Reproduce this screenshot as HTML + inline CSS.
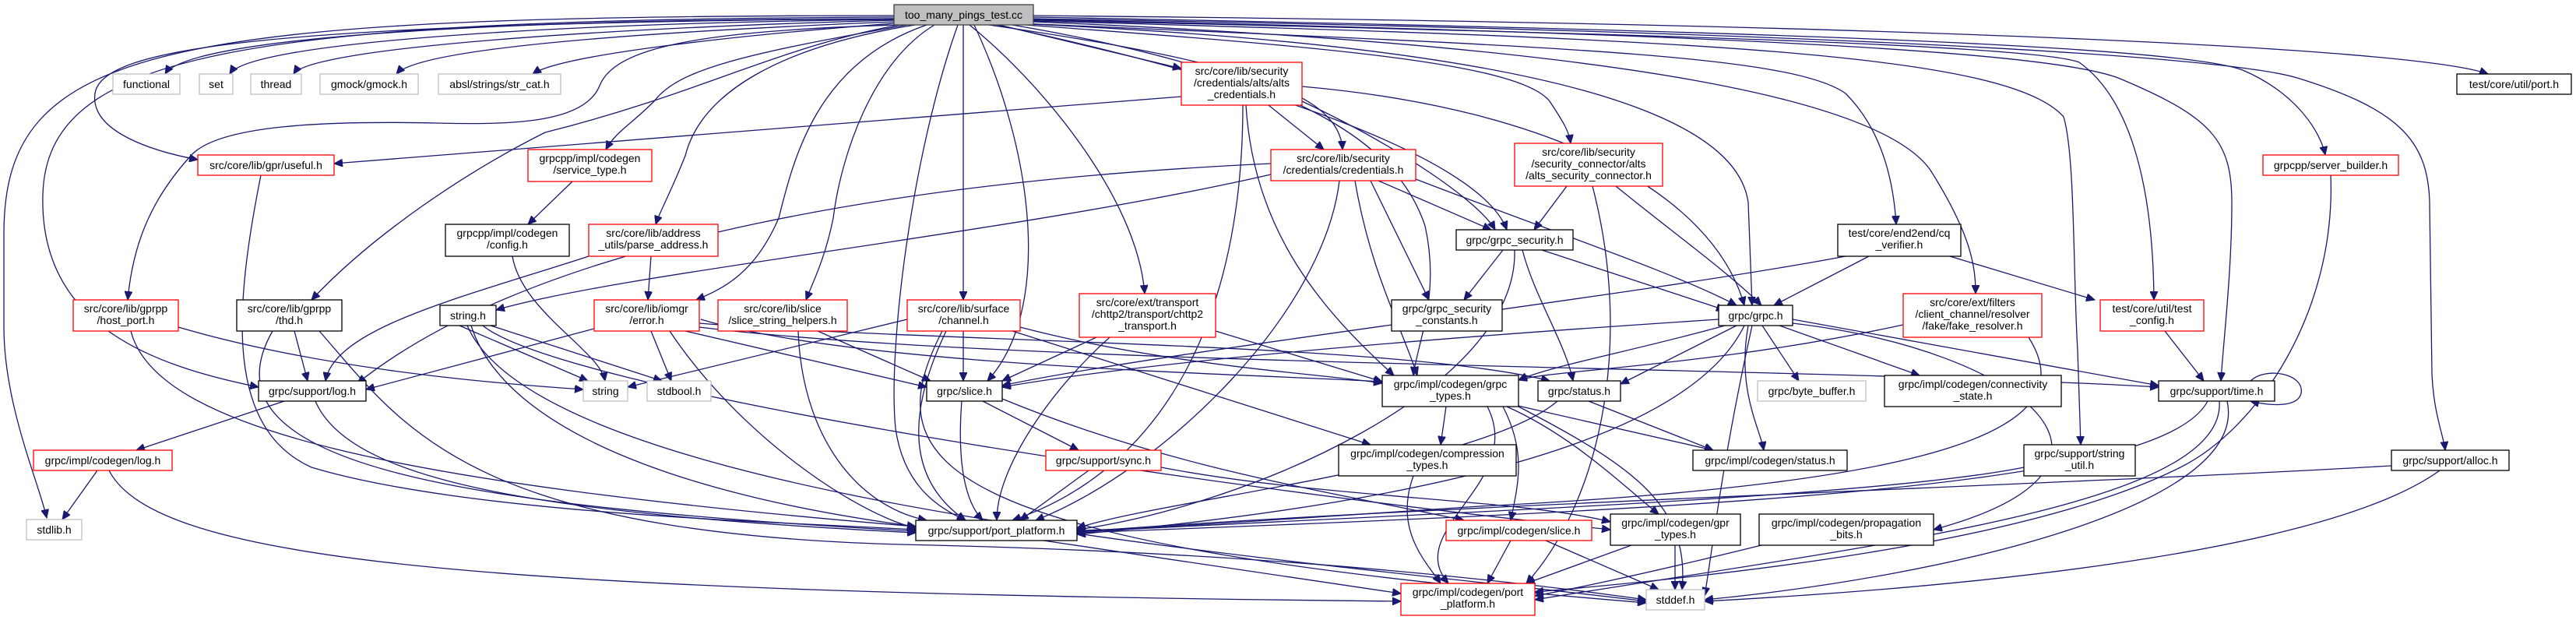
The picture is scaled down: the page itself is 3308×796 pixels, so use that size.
<!DOCTYPE html>
<html><head><meta charset="utf-8"><style>
html,body{margin:0;padding:0;background:#fff;}
svg{display:block;}
text{font-family:"Liberation Sans",Arial,sans-serif;font-size:14px;fill:#000;}
.e{fill:none;stroke:#191970;stroke-width:1.3;marker-end:url(#a);}
.b{fill:#fff;stroke:#000;stroke-width:1.3;}
.r{fill:#fff;stroke:#ff0000;stroke-width:1.3;}
.g{fill:#fff;stroke:#bfbfbf;stroke-width:1.3;}
</style></head><body>
<svg width="3308" height="796" viewBox="0 0 3308 796" xmlns="http://www.w3.org/2000/svg">
<defs><marker id="a" markerWidth="12" markerHeight="10" refX="11" refY="5" orient="auto" markerUnits="userSpaceOnUse"><path d="M0,0 L11,5 L0,10 z" fill="#191970" stroke="#191970"/></marker></defs>
<g>
<!-- root edges left -->
<path class="e" d="M1148,20 C200,20 5,60 5,300 L5,420 C5,520 50,620 60,665"/>
<path class="e" d="M1148,22 C300,25 60,70 55,250 C50,420 200,470 332,497"/>
<path class="e" d="M1148,24 C350,30 130,60 122,120 C115,170 200,195 254,205"/>
<path class="e" d="M1148,24 C600,25 240,50 212,95"/>
<path class="e" d="M1148,25 C700,30 320,55 295,95"/>
<path class="e" d="M1148,26 C800,35 400,60 377,95"/>
<path class="e" d="M1148,28 C850,40 540,60 509,95"/>
<path class="e" d="M1148,30 C950,45 720,70 684,95"/>
<path class="e" d="M1150,32 C900,40 790,60 770,110 C750,160 650,160 560,158 C420,155 280,160 245,200 C190,260 170,320 164,385"/>
<path class="e" d="M1155,32 C1000,60 900,120 700,170 C600,220 480,300 400,385"/>
<path class="e" d="M1165,32 C950,70 870,90 840,130 C810,160 790,170 778,192"/>
<path class="e" d="M1175,32 C1000,60 900,120 880,200 C860,250 848,270 842,288"/>
<path class="e" d="M1190,32 C1050,80 1020,200 1000,280 C970,350 930,370 894,385"/>
<path class="e" d="M1200,32 C1120,80 1080,200 1070,280 C1060,330 1045,360 1035,385"/>
<path class="e" d="M1230,32 C1170,200 1140,450 1150,550 C1160,620 1200,650 1240,668"/>
<path class="e" d="M1237,32 L1237,385"/>
<path class="e" d="M1251,32 C1330,200 1350,400 1268,489"/>
<path class="e" d="M1245,32 C1330,100 1460,250 1470,377"/>
<path class="e" d="M1283,32 L1517,88"/>
<path class="e" d="M1270,32 C1600,80 1720,120 1724,192"/>
<path class="e" d="M1280,32 C1600,100 1900,200 1935,295"/>
<path class="e" d="M1300,32 C1700,100 1800,200 1830,290 C1850,380 1820,440 1815,482"/>
<!-- root edges right -->
<path class="e" d="M1290,30 C1700,60 1950,80 1990,130 C2010,160 2015,170 2017,184"/>
<path class="e" d="M1300,30 C2000,60 2230,150 2245,260 L2250,392"/>
<path class="e" d="M1310,30 C2000,60 2300,70 2370,120 C2420,170 2432,240 2435,288"/>
<path class="e" d="M1327,28 C2100,60 2420,130 2480,220 C2530,300 2537,340 2537,377"/>
<path class="e" d="M1327,27 C2200,50 2580,70 2650,150 C2665,200 2662,350 2668,450 L2672,571"/>
<path class="e" d="M1327,26 C2200,45 2620,60 2670,80 C2740,130 2765,250 2766,385"/>
<path class="e" d="M1327,25 C2300,45 2640,70 2720,100 C2840,150 2866,180 2866,260 C2866,350 2855,440 2852,489"/>
<path class="e" d="M1327,24 C2300,40 2850,70 2950,100 C3080,140 3118,180 3120,260 L3123,480 C3125,530 3138,560 3140,578"/>
<path class="e" d="M1327,22 C2300,40 2800,60 2880,90 C2950,120 2980,170 2986,199"/>
<path class="e" d="M1327,20 C2400,30 3100,60 3195,95"/>
<!-- alts_credentials -->
<path class="e" d="M1517,124 L429,210"/>
<path class="e" d="M1629,135 L1700,192"/>
<path class="e" d="M1672,130 C1800,190 1900,260 1920,295"/>
<path class="e" d="M1672,111 C2000,140 2200,250 2240,392"/>
<path class="e" d="M1600,135 C1610,300 1700,400 1790,482"/>
<path class="e" d="M1596,135 C1596,400 1500,600 1300,668"/>
<!-- credentials -->
<path class="e" d="M1770,232 L1915,295"/>
<path class="e" d="M1818,230 C2000,300 2150,350 2230,392"/>
<path class="e" d="M1740,232 C1760,350 1800,420 1820,482"/>
<path class="e" d="M1760,232 L1835,385"/>
<path class="e" d="M1720,232 C1700,400 1500,600 1330,668"/>
<path class="e" d="M1632,224 C1300,300 800,350 637,398"/>
<path class="e" d="M1632,210 C1200,230 700,300 459,492"/>
<!-- alts sc -->
<path class="e" d="M2012,239 L1970,295"/>
<path class="e" d="M2075,239 C2150,300 2220,350 2262,392"/>
<path class="e" d="M2045,239 C2100,450 2050,650 1960,749"/>
<!-- grpc_security -->
<path class="e" d="M1930,321 L1880,385"/>
<path class="e" d="M1980,321 L2215,398"/>
<path class="e" d="M1955,321 C1970,380 2010,440 2020,489"/>
<path class="e" d="M1945,321 C1950,500 1600,650 1383,680"/>
<!-- cq verifier -->
<path class="e" d="M2400,329 L2278,392"/>
<path class="e" d="M2370,329 C2100,380 1500,450 1287,495"/>
<path class="e" d="M2504,329 L2690,385"/>
<!-- fake resolver -->
<path class="e" d="M2444,417 C2200,470 1990,475 1950,488"/>
<path class="e" d="M2605,433 C2680,550 2500,620 1900,650 C1600,670 1450,680 1383,681"/>
<!-- test config / time -->
<path class="e" d="M2780,425 L2830,489"/>
<path class="e" d="M2890,489 C2910,470 2960,480 2955,505 C2950,525 2910,520 2890,515"/>
<path class="e" d="M2835,515 C2780,620 2300,650 1383,684"/>
<path class="e" d="M2850,515 C2860,650 2400,700 1971,770"/>
<path class="e" d="M2860,515 C2890,650 2500,740 2189,770"/>
<path class="e" d="M2599,600 C2400,640 1800,660 1383,683"/>
<path class="e" d="M3071,598 C2700,620 1800,650 1383,683"/>
<path class="e" d="M3133,604 C3000,700 2600,750 2189,772"/>
<path class="e" d="M2993,225 C3000,400 2900,550 2800,600 C2600,700 2200,740 1971,760"/>
<!-- grpc.h -->
<path class="e" d="M2215,418 C2100,450 1990,470 1950,488"/>
<path class="e" d="M2230,418 L2081,493"/>
<path class="e" d="M2207,410 C1900,430 1500,460 1287,497"/>
<path class="e" d="M2263,418 L2310,489"/>
<path class="e" d="M2285,418 L2465,482"/>
<path class="e" d="M2302,410 L2772,495"/>
<path class="e" d="M2240,418 C2190,520 2000,630 1383,686"/>
<path class="e" d="M2245,418 C2230,500 2260,550 2265,578"/>
<path class="e" d="M2250,418 C2210,600 2200,700 2189,765"/>
<path class="e" d="M2302,415 C2600,450 2780,600 2483,680"/>
<!-- left cluster -->
<path class="e" d="M735,233 L678,288"/>
<path class="e" d="M658,329 C670,400 770,450 777,489"/>
<path class="e" d="M836,329 L832,385"/>
<path class="e" d="M756,329 C600,380 430,420 418,489"/>
<path class="e" d="M335,225 C300,400 290,550 400,600 C600,660 1000,670 1176,680"/>
<path class="e" d="M229,420 C400,470 600,490 749,500"/>
<path class="e" d="M168,425 C200,550 500,620 1176,676"/>
<path class="e" d="M378,425 L395,489"/>
<path class="e" d="M350,425 C250,600 600,650 1176,682"/>
<path class="e" d="M410,425 C520,550 600,690 1200,700 C1600,710 1900,740 2114,770"/>
<path class="e" d="M590,418 L755,489"/>
<path class="e" d="M630,418 L850,489"/>
<path class="e" d="M605,418 C650,560 900,640 1176,676"/>
<path class="e" d="M620,418 C720,500 1500,620 2068,680"/>
<path class="e" d="M600,418 C700,650 1700,720 2114,772"/>
<path class="e" d="M763,422 L470,500"/>
<path class="e" d="M836,425 L862,489"/>
<path class="e" d="M880,425 L1190,497"/>
<path class="e" d="M900,410 C1100,470 1600,480 1775,490"/>
<path class="e" d="M898,420 C1300,470 2300,470 2772,497"/>
<path class="e" d="M860,425 C950,560 1100,660 1176,678"/>
<path class="e" d="M898,415 C1200,440 1800,440 1990,489"/>
<path class="e" d="M1050,425 L1195,489"/>
<path class="e" d="M1025,425 C1030,560 1100,650 1190,668"/>
<path class="e" d="M1237,425 L1237,489"/>
<path class="e" d="M1310,420 C1500,470 1700,480 1775,492"/>
<path class="e" d="M1300,425 L1760,571"/>
<path class="e" d="M1215,425 C1160,540 1170,620 1240,668"/>
<path class="e" d="M1210,425 C1120,600 1200,700 2114,774"/>
<path class="e" d="M1165,410 L806,497"/>
<path class="e" d="M1408,433 L1287,489"/>
<path class="e" d="M1561,425 L1775,490"/>
<path class="e" d="M1425,433 C1350,500 1280,600 1280,668"/>
<path class="e" d="M1262,515 L1385,578"/>
<path class="e" d="M1235,515 C1230,580 1235,640 1262,668"/>
<path class="e" d="M1287,512 C1500,600 1700,630 1880,668"/>
<path class="e" d="M1398,604 L1310,668"/>
<path class="e" d="M1491,600 C1700,640 1950,640 2068,670"/>
<path class="e" d="M2040,515 L2200,578"/>
<path class="e" d="M2000,515 C1900,600 1500,640 1383,678"/>
<path class="e" d="M1857,522 L1850,571"/>
<path class="e" d="M1910,522 C1960,620 1800,680 1860,749"/>
<path class="e" d="M1930,522 C1960,580 1950,620 1940,668"/>
<path class="e" d="M1935,522 C2020,560 2080,620 2130,660"/>
<path class="e" d="M1950,522 C2100,600 2170,650 2160,757"/>
<path class="e" d="M1945,520 L2200,578"/>
<path class="e" d="M1815,611 C1790,680 1830,720 1850,749"/>
<path class="e" d="M1940,694 L1910,749"/>
<path class="e" d="M1985,694 L2130,757"/>
<path class="e" d="M2095,700 L1960,749"/>
<path class="e" d="M2151,700 L2151,757"/>
<path class="e" d="M2262,700 C2100,740 2000,760 1971,765"/>
<path class="e" d="M1340,694 L1799,762"/>
<path class="e" d="M365,515 L175,578"/>
<path class="e" d="M405,515 C450,620 700,660 1176,684"/>
<path class="e" d="M125,604 L80,667"/>
<path class="e" d="M140,604 C200,720 600,760 1799,772"/>
</g>
<g>
<rect x="1148" y="6" width="179" height="26" fill="#bfbfbf" stroke="#404040" stroke-width="1.3"/><text x="1237.5" y="24" text-anchor="middle">too_many_pings_test.cc</text>
<rect class="g" x="145" y="95" width="86" height="26"/><text x="188" y="113" text-anchor="middle">functional</text>
<rect class="g" x="256" y="95" width="43" height="26"/><text x="277.5" y="113" text-anchor="middle">set</text>
<rect class="g" x="322" y="95" width="65" height="26"/><text x="354.5" y="113" text-anchor="middle">thread</text>
<rect class="g" x="411" y="95" width="126" height="26"/><text x="474" y="113" text-anchor="middle">gmock/gmock.h</text>
<rect class="g" x="563" y="95" width="157" height="26"/><text x="641.5" y="113" text-anchor="middle">absl/strings/str_cat.h</text>
<rect class="r" x="254" y="199" width="175" height="26"/><text x="341.5" y="217" text-anchor="middle">src/core/lib/gpr/useful.h</text>
<rect class="r" x="678" y="192" width="159" height="41"/><text x="757.5" y="208" text-anchor="middle">grpcpp/impl/codegen</text><text x="757.5" y="223" text-anchor="middle">/service_type.h</text>
<rect class="b" x="572" y="288" width="159" height="41"/><text x="651.5" y="304" text-anchor="middle">grpcpp/impl/codegen</text><text x="651.5" y="319" text-anchor="middle">/config.h</text>
<rect class="r" x="756" y="288" width="166" height="41"/><text x="839" y="304" text-anchor="middle">src/core/lib/address</text><text x="839" y="319" text-anchor="middle">_utils/parse_address.h</text>
<rect class="r" x="94" y="385" width="135" height="40"/><text x="161.5" y="401" text-anchor="middle">src/core/lib/gprpp</text><text x="161.5" y="416" text-anchor="middle">/host_port.h</text>
<rect class="b" x="304" y="385" width="135" height="40"/><text x="371.5" y="401" text-anchor="middle">src/core/lib/gprpp</text><text x="371.5" y="416" text-anchor="middle">/thd.h</text>
<rect class="b" x="565" y="392" width="72" height="26"/><text x="601" y="410" text-anchor="middle">string.h</text>
<rect class="r" x="763" y="385" width="135" height="40"/><text x="830.5" y="401" text-anchor="middle">src/core/lib/iomgr</text><text x="830.5" y="416" text-anchor="middle">/error.h</text>
<rect class="r" x="922" y="385" width="166" height="40"/><text x="1005" y="401" text-anchor="middle">src/core/lib/slice</text><text x="1005" y="416" text-anchor="middle">/slice_string_helpers.h</text>
<rect class="b" x="332" y="489" width="138" height="26"/><text x="401" y="507" text-anchor="middle">grpc/support/log.h</text>
<rect class="g" x="749" y="489" width="57" height="26"/><text x="777.5" y="507" text-anchor="middle">string</text>
<rect class="g" x="831" y="489" width="82" height="26"/><text x="872" y="507" text-anchor="middle">stdbool.h</text>
<rect class="r" x="43" y="578" width="178" height="26"/><text x="132" y="596" text-anchor="middle">grpc/impl/codegen/log.h</text>
<rect class="g" x="34" y="667" width="71" height="26"/><text x="69.5" y="685" text-anchor="middle">stdlib.h</text>
<rect class="r" x="1517" y="80" width="155" height="55"/><text x="1594.5" y="96" text-anchor="middle">src/core/lib/security</text><text x="1594.5" y="111" text-anchor="middle">/credentials/alts/alts</text><text x="1594.5" y="126" text-anchor="middle">_credentials.h</text>
<rect class="r" x="1632" y="192" width="186" height="40"/><text x="1725" y="208" text-anchor="middle">src/core/lib/security</text><text x="1725" y="223" text-anchor="middle">/credentials/credentials.h</text>
<rect class="r" x="1945" y="184" width="190" height="55"/><text x="2040" y="200" text-anchor="middle">src/core/lib/security</text><text x="2040" y="215" text-anchor="middle">/security_connector/alts</text><text x="2040" y="230" text-anchor="middle">/alts_security_connector.h</text>
<rect class="b" x="1870" y="295" width="150" height="26"/><text x="1945" y="313" text-anchor="middle">grpc/grpc_security.h</text>
<rect class="b" x="1787" y="385" width="142" height="40"/><text x="1858" y="401" text-anchor="middle">grpc/grpc_security</text><text x="1858" y="416" text-anchor="middle">_constants.h</text>
<rect class="r" x="1165" y="385" width="145" height="40"/><text x="1237.5" y="401" text-anchor="middle">src/core/lib/surface</text><text x="1237.5" y="416" text-anchor="middle">/channel.h</text>
<rect class="r" x="1386" y="377" width="175" height="56"/><text x="1473.5" y="393" text-anchor="middle">src/core/ext/transport</text><text x="1473.5" y="408" text-anchor="middle">/chttp2/transport/chttp2</text><text x="1473.5" y="423" text-anchor="middle">_transport.h</text>
<rect class="b" x="1190" y="489" width="97" height="26"/><text x="1238.5" y="507" text-anchor="middle">grpc/slice.h</text>
<rect class="b" x="1775" y="482" width="175" height="40"/><text x="1862.5" y="498" text-anchor="middle">grpc/impl/codegen/grpc</text><text x="1862.5" y="513" text-anchor="middle">_types.h</text>
<rect class="b" x="1975" y="489" width="106" height="26"/><text x="2028" y="507" text-anchor="middle">grpc/status.h</text>
<rect class="b" x="1719" y="571" width="228" height="40"/><text x="1833" y="587" text-anchor="middle">grpc/impl/codegen/compression</text><text x="1833" y="602" text-anchor="middle">_types.h</text>
<rect class="r" x="1343" y="578" width="148" height="26"/><text x="1417" y="596" text-anchor="middle">grpc/support/sync.h</text>
<rect class="b" x="1176" y="668" width="207" height="26"/><text x="1279.5" y="686" text-anchor="middle">grpc/support/port_platform.h</text>
<rect class="r" x="1857" y="668" width="187" height="26"/><text x="1950.5" y="686" text-anchor="middle">grpc/impl/codegen/slice.h</text>
<rect class="b" x="2068" y="660" width="167" height="40"/><text x="2151.5" y="676" text-anchor="middle">grpc/impl/codegen/gpr</text><text x="2151.5" y="691" text-anchor="middle">_types.h</text>
<rect class="r" x="1799" y="749" width="172" height="41"/><text x="1885" y="765" text-anchor="middle">grpc/impl/codegen/port</text><text x="1885" y="780" text-anchor="middle">_platform.h</text>
<rect class="g" x="2114" y="757" width="75" height="26"/><text x="2151.5" y="775" text-anchor="middle">stddef.h</text>
<rect class="b" x="3155" y="95" width="147" height="26"/><text x="3228.5" y="113" text-anchor="middle">test/core/util/port.h</text>
<rect class="r" x="2906" y="199" width="174" height="26"/><text x="2993" y="217" text-anchor="middle">grpcpp/server_builder.h</text>
<rect class="b" x="2360" y="288" width="158" height="41"/><text x="2439" y="304" text-anchor="middle">test/core/end2end/cq</text><text x="2439" y="319" text-anchor="middle">_verifier.h</text>
<rect class="r" x="2444" y="377" width="178" height="56"/><text x="2533" y="393" text-anchor="middle">src/core/ext/filters</text><text x="2533" y="408" text-anchor="middle">/client_channel/resolver</text><text x="2533" y="423" text-anchor="middle">/fake/fake_resolver.h</text>
<rect class="r" x="2697" y="385" width="133" height="40"/><text x="2763.5" y="401" text-anchor="middle">test/core/util/test</text><text x="2763.5" y="416" text-anchor="middle">_config.h</text>
<rect class="b" x="2207" y="392" width="95" height="26"/><text x="2254.5" y="410" text-anchor="middle">grpc/grpc.h</text>
<rect class="g" x="2257" y="489" width="139" height="26"/><text x="2326.5" y="507" text-anchor="middle">grpc/byte_buffer.h</text>
<rect class="b" x="2420" y="482" width="227" height="40"/><text x="2533.5" y="498" text-anchor="middle">grpc/impl/codegen/connectivity</text><text x="2533.5" y="513" text-anchor="middle">_state.h</text>
<rect class="b" x="2772" y="489" width="149" height="26"/><text x="2846.5" y="507" text-anchor="middle">grpc/support/time.h</text>
<rect class="b" x="2174" y="578" width="198" height="26"/><text x="2273" y="596" text-anchor="middle">grpc/impl/codegen/status.h</text>
<rect class="b" x="2599" y="571" width="143" height="40"/><text x="2670.5" y="587" text-anchor="middle">grpc/support/string</text><text x="2670.5" y="602" text-anchor="middle">_util.h</text>
<rect class="b" x="3071" y="578" width="151" height="26"/><text x="3146.5" y="596" text-anchor="middle">grpc/support/alloc.h</text>
<rect class="b" x="2259" y="660" width="224" height="40"/><text x="2371" y="676" text-anchor="middle">grpc/impl/codegen/propagation</text><text x="2371" y="691" text-anchor="middle">_bits.h</text>
</g>
</svg>
</body></html>
